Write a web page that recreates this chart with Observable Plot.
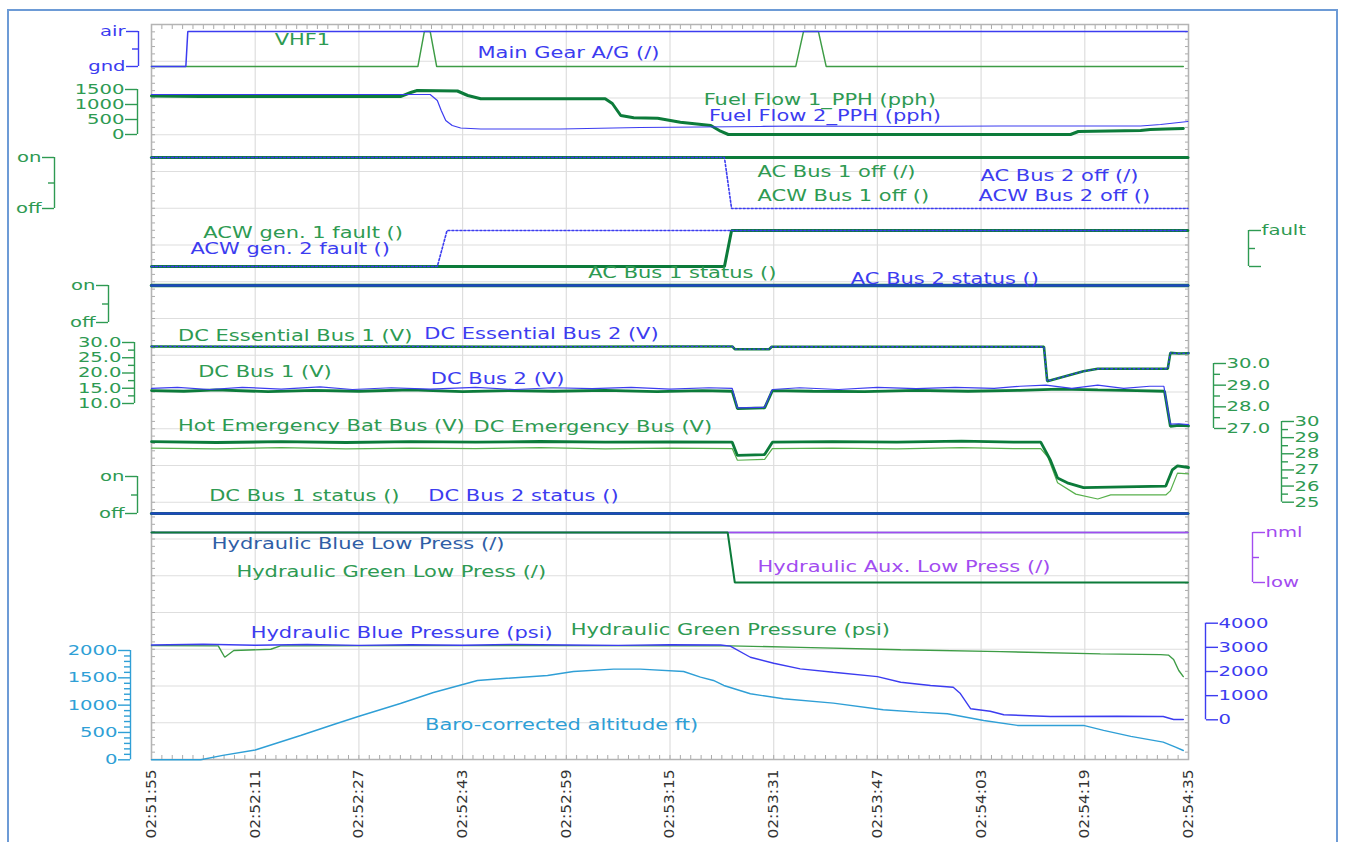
<!DOCTYPE html>
<html><head><meta charset="utf-8">
<script src="https://cdn.jsdelivr.net/npm/d3@7"></script>
<script src="https://cdn.jsdelivr.net/npm/@observablehq/plot@0.6"></script>
<style>
html,body{margin:0;padding:0;background:#fff;}
#chart{position:relative;width:1346px;height:842px;overflow:hidden;background:#fff;}
#chart svg{position:absolute;left:0;top:0;}
#border{position:absolute;left:7px;top:9px;width:1331px;height:860px;border:2px solid #6d9bd6;box-sizing:border-box;}
</style></head>
<body><div id="chart"><div id="border"></div></div>
<script>
// ---------- time axis ----------
const T0 = Date.UTC(2021, 0, 1, 2, 51, 55);          // 02:51:55
const tickSeconds = [0, 16, 32, 48, 64, 80, 96, 112, 128, 144, 160];

// ---------- Main Gear A/G and VHF1 (0 = gnd, 1 = air) ----------
const mainGearT = [0, 5.3, 5.6, 159.8];
const mainGearV = [0, 0, 1, 1];
const vhf1T = [0, 41.1, 42.1, 43.0, 44.0, 99.4, 100.6, 102.9, 104.1, 159.2];
const vhf1V = [0, 0, 1, 1, 0, 0, 1, 1, 0, 0];

// ---------- Fuel flow (pph) ----------
const ff1T = [0, 7.6, 38.4, 40.0, 41.0, 47.2, 48.8, 50.8, 70.0, 71.1, 72.4, 74.4, 78.1, 81.6, 86.3, 87.8, 89.0, 141.8, 143.0, 152.6, 154.1, 156.5, 159.2];
const ff1V = [1280, 1265, 1265, 1400, 1467, 1450, 1300, 1190, 1190, 1033, 633, 557, 540, 410, 300, 110, 0, 0, 100, 133, 170, 185, 200];
const ff2T = [0, 43.0, 44.1, 44.7, 45.4, 46.4, 47.7, 50.8, 63.1, 75.4, 84.7, 94.0, 100.1, 115.6, 131.0, 152.6, 155.7, 159.9];
const ff2V = [1333, 1333, 1133, 800, 467, 300, 217, 183, 183, 233, 250, 267, 283, 267, 283, 283, 333, 433];

// ---------- AC bus off (1 = on, 0 = off) ----------
const acBus1OffT = [0, 159.9];
const acBus1OffV = [1, 1];
const acwBus2OffT = [0, 88.4, 89.5, 159.9];
const acwBus2OffV = [1, 1, 0, 0];

// ---------- ACW generator faults (1 = fault) ----------
const acwGen1T = [0, 88.4, 89.5, 159.9];
const acwGen1V = [0, 0, 1, 1];
const acwGen2T = [0, 44.1, 45.6, 159.9];
const acwGen2V = [0, 0, 1, 1];

// ---------- AC bus status ----------
const acStat1T = [0, 159.9];
const acStat1V = [1, 1];
const acStat2T = [0, 159.9];
const acStat2V = [1, 1];

// ---------- DC Essential buses (V, left 10–30 scale) ----------
const dcEss1T = [0, 20, 40, 60, 80, 89.6, 90.0, 95.3, 95.7, 110, 130, 137.7, 138.2, 143.8, 146.0, 156.8, 157.2, 158.5, 160];
const dcEss1V = [28.7, 28.6, 28.7, 28.6, 28.7, 28.7, 27.8, 27.8, 28.6, 28.6, 28.6, 28.6, 17.3, 20.6, 21.4, 21.4, 26.6, 26.4, 26.5];
const dcEss2T = [0, 20, 40, 60, 80, 89.6, 90.0, 95.3, 95.7, 110, 130, 137.7, 138.2, 143.8, 146.0, 156.8, 157.2, 158.5, 160];
const dcEss2V = [28.7, 28.7, 28.7, 28.6, 28.7, 28.7, 27.8, 27.8, 28.6, 28.6, 28.6, 28.6, 17.3, 20.6, 21.4, 21.4, 26.6, 26.4, 26.5];

// ---------- DC buses (V, right 27–30 scale) ----------
const dcBus1T = [0, 5, 10, 18, 25, 32, 40, 48, 55, 62, 70, 78, 85, 89.6, 90.4, 94.6, 95.8, 102, 110, 118, 126, 134, 140, 146, 152, 156.3, 157.2, 158.5, 160];
const dcBus1V = [28.75, 28.72, 28.78, 28.7, 28.76, 28.72, 28.78, 28.7, 28.75, 28.72, 28.76, 28.7, 28.75, 28.72, 27.92, 27.95, 28.75, 28.72, 28.7, 28.76, 28.72, 28.76, 28.82, 28.78, 28.75, 28.72, 27.1, 27.15, 27.12];
const dcBus2T = [0, 4, 9, 14, 20, 26, 31, 37, 43, 50, 56, 62, 68, 74, 80, 86, 89.6, 90.4, 94.6, 95.8, 100, 106, 112, 118, 124, 130, 134, 138, 142, 146, 150, 154, 156.2, 157.2, 158.5, 160];
const dcBus2V = [28.85, 28.9, 28.8, 28.9, 28.82, 28.92, 28.8, 28.88, 28.82, 28.9, 28.8, 28.88, 28.84, 28.9, 28.82, 28.88, 28.85, 27.95, 27.98, 28.8, 28.88, 28.8, 28.9, 28.84, 28.9, 28.85, 28.95, 29.0, 28.85, 29.0, 28.85, 28.95, 28.95, 27.2, 27.22, 27.18];

// ---------- Emergency buses (V, right 25–30 scale) ----------
const hotEmT = [0, 10, 20, 30, 40, 50, 60, 70, 80, 89.6, 90.4, 94.6, 95.8, 105, 115, 125, 133, 137.2, 138.7, 139.8, 141.3, 143.8, 150, 156.5, 157.5, 158.3, 160];
const hotEmV = [28.75, 28.7, 28.75, 28.7, 28.75, 28.72, 28.76, 28.72, 28.74, 28.72, 27.9, 27.95, 28.72, 28.75, 28.72, 28.78, 28.72, 28.72, 27.6, 26.5, 26.2, 25.9, 25.95, 26.0, 27.0, 27.25, 27.15];
const dcEmT = [0, 10, 20, 30, 40, 50, 60, 70, 80, 89.6, 90.4, 94.6, 95.8, 105, 115, 125, 133, 137.2, 138.3, 139.8, 142.6, 146.0, 148.0, 156.5, 157.2, 158.3, 160];
const dcEmV = [28.35, 28.3, 28.38, 28.3, 28.35, 28.32, 28.38, 28.3, 28.35, 28.32, 27.6, 27.65, 28.32, 28.35, 28.3, 28.38, 28.32, 28.32, 27.8, 26.2, 25.5, 25.2, 25.45, 25.45, 25.7, 26.8, 26.75];

// ---------- DC bus status ----------
const dcStat1T = [0, 159.9];
const dcStat1V = [0, 0];
const dcStat2T = [0, 159.9];
const dcStat2V = [0, 0];

// ---------- Hydraulic low press (1 = nml, 0 = low) ----------
const hydAuxLowT = [0, 159.9];
const hydAuxLowV = [1, 1];
const hydBlueLowT = [0, 159.9];
const hydBlueLowV = [1, 1];
const hydGreenLowT = [0, 88.9, 90.0, 159.9];
const hydGreenLowV = [1, 1, 0, 0];

// ---------- Hydraulic pressures (psi) ----------
const hydBlueT = [0, 8, 16, 24, 32, 40, 48, 56, 64, 72, 80, 87.8, 89.3, 92.4, 96.0, 100.1, 105.2, 112.0, 115.6, 120.2, 123.7, 124.8, 126.4, 129.4, 131.5, 138.7, 149.0, 156.1, 157.7, 159.2];
const hydBlueV = [3100, 3130, 3090, 3120, 3080, 3110, 3090, 3120, 3100, 3080, 3110, 3100, 3050, 2590, 2340, 2110, 1970, 1790, 1556, 1419, 1349, 1088, 455, 356, 207, 137, 150, 137, 12, 12];
const hydGreenT = [0, 10.3, 11.3, 12.7, 18.4, 19.9, 40, 60, 89.3, 100.1, 115.6, 131.0, 146.4, 155.7, 156.9, 157.7, 158.5, 159.2];
const hydGreenV = [3070, 3060, 2590, 2870, 2920, 3060, 3070, 3070, 3060, 3000, 2900, 2825, 2730, 2700, 2680, 2500, 2040, 1790];

// ---------- Baro-corrected altitude (ft) ----------
const altT = [0, 7.6, 11.0, 16.0, 23.0, 28.1, 31.9, 38.4, 43.5, 50.3, 53.8, 61.1, 65.1, 71.3, 75.4, 82.1, 84.7, 86.7, 88.3, 92.4, 97.5, 105.2, 112.9, 118.2, 122.8, 128.4, 133.6, 143.8, 146.9, 151.1, 156.1, 158.0, 159.2];
const altV = [0, 0, 80, 180, 445, 646, 792, 1030, 1232, 1451, 1483, 1543, 1616, 1660, 1660, 1616, 1512, 1452, 1360, 1208, 1117, 1037, 916, 872, 842, 720, 629, 629, 538, 428, 324, 232, 170];

// ---------- styling ----------
const GREEN = "#2e9a52", DKGREEN = "#0c7b3a", LINEGREEN = "#3d9c45", LTGREEN = "#58b04c";
const BLUE = "#3c3cf0", STATBLUE = "#1f47c0", SKY = "#2f9fd6", PURPLE = "#a24cf0", STEEL = "#2f5ea6";
const W = 1346, H = 842;
const X_RANGE = [151, 1188];
const secs = s => new Date(T0 + s * 1000);
const xDomain = [secs(0), secs(160)];
const rows = (T, V) => T.map((t, i) => ({t: secs(t), v: V[i]}));
const STYLE = "background: transparent; overflow: visible; font-family: 'DejaVu Sans', Verdana, sans-serif; font-size: 14px;";

// widen the glyphs horizontally (the reference face is wide), about each text's own anchor
function stretch(svg, s) {
  svg.querySelectorAll("text").forEach(t => {
    t.setAttribute("transform", (t.getAttribute("transform") || "") + ` scale(${s},1)`);
  });
  return svg;
}

const chart = document.getElementById("chart");

// ---------- background: frame, grid, time axis ----------
const tickDates = tickSeconds.map(secs);
const minorDates = d3.range(0, 160.01, 1.6).map(secs);
const bg = Plot.plot({
  width: W, height: H,
  marginLeft: X_RANGE[0], marginRight: W - X_RANGE[1], marginTop: 24, marginBottom: H - 759,
  style: STYLE,
  x: {type: "utc", domain: xDomain, label: null},
  y: {domain: [0, 20], label: null},
  marks: [
    Plot.gridX(tickDates, {stroke: "#dedede", strokeOpacity: 1, strokeWidth: 1.2}),
    Plot.gridY(d3.range(0, 21), {stroke: "#dedede", strokeOpacity: 1, strokeWidth: 1.2}),
    Plot.axisY(d3.range(0, 20.01, 0.2), {anchor: "left", tickSize: -4, fill: "none", stroke: "#aaa"}),
    Plot.axisY(d3.range(0, 20.01, 0.2), {anchor: "right", tickSize: -4, fill: "none", stroke: "#aaa"}),
    Plot.axisX(minorDates, {anchor: "top", tickSize: -4, fill: "none", stroke: "#aaa"}),
    Plot.axisX(minorDates, {anchor: "bottom", tickSize: -4, fill: "none", stroke: "#aaa"}),
    Plot.frame({stroke: "#b4b4b4", strokeWidth: 1.5}),
    Plot.axisX(tickDates, {anchor: "bottom", tickSize: 0, tickPadding: 10, tickRotate: -90,
      tickFormat: d3.utcFormat("%H:%M:%S"), fill: "#333"})
  ]
});
chart.appendChild(stretch(bg, 1.1));

// ---------- stacked panels, each with its own y scale ----------
function panel(p) {
  const left = p.side === "left";
  const marks = [
    Plot.ruleX([left ? xDomain[0] : xDomain[1]], {
      y1: p.yDomain[0], y2: p.yDomain[1],
      dx: p.axisX - (left ? X_RANGE[0] : X_RANGE[1]), stroke: p.color, strokeWidth: 1.4}),
    Plot.axisY(p.major, {anchor: p.side, tickSize: 12, tickPadding: 1, tickFormat: p.fmt,
      stroke: p.color, fill: p.color, strokeWidth: 1.4})
  ];
  if (p.minor) marks.push(Plot.axisY(p.minor, {anchor: p.side, tickSize: 6, fill: "none", stroke: p.color, strokeWidth: 1.4}));
  for (const s of p.series) {
    marks.push(Plot.line(rows(s.T, s.V), {x: "t", y: "v", stroke: s.stroke, strokeWidth: s.w,
      strokeDasharray: s.dash || null, strokeLinejoin: "miter"}));
  }
  for (const l of p.labels) {
    marks.push(Plot.text([l], {x: d => secs(d.t), y: "v", text: "text", fill: l.color, textAnchor: "start", fontSize: 15}));
  }
  const svg = Plot.plot({
    width: W, height: H,
    marginLeft: left ? p.axisX : 0, marginRight: left ? 0 : W - p.axisX, marginTop: 0, marginBottom: 0,
    style: STYLE,
    x: {type: "utc", domain: xDomain, range: X_RANGE, axis: null, label: null},
    y: {domain: p.yDomain, range: p.yRange, label: null},
    marks
  });
  chart.appendChild(stretch(svg, 1.4));
}

const onOff = d => d === 1 ? "on" : d === 0 ? "off" : "";
const f1 = d3.format(".1f");

panel({side: "left", axisX: 138, yDomain: [0, 1], yRange: [66, 31], major: [0, 1], minor: [0.5],
  fmt: d => d === 1 ? "air" : "gnd", color: BLUE,
  series: [{T: vhf1T, V: vhf1V, stroke: LINEGREEN, w: 1.4}, {T: mainGearT, V: mainGearV, stroke: BLUE, w: 1.5}],
  labels: [{text: "VHF1", t: 19.0, v: 0.74, color: GREEN}, {text: "Main Gear A/G (/)", t: 50.3, v: 0.37, color: BLUE}]});

panel({side: "left", axisX: 137, yDomain: [0, 1500], yRange: [134, 89], major: [0, 500, 1000, 1500],
  fmt: d => String(d), color: GREEN,
  series: [{T: ff1T, V: ff1V, stroke: DKGREEN, w: 3}, {T: ff2T, V: ff2V, stroke: BLUE, w: 1.2}],
  labels: [{text: "Fuel Flow 1_PPH (pph)", t: 85.2, v: 1133, color: GREEN}, {text: "Fuel Flow 2_PPH (pph)", t: 86.0, v: 600, color: BLUE}]});

panel({side: "left", axisX: 54, yDomain: [0, 1], yRange: [208, 157], major: [0, 1], minor: [0.5],
  fmt: onOff, color: GREEN,
  series: [{T: acBus1OffT, V: acBus1OffV, stroke: DKGREEN, w: 3.2}, {T: acwBus2OffT, V: acwBus2OffV, stroke: BLUE, w: 1.6, dash: "2,2"}],
  labels: [{text: "AC Bus 1 off (/)", t: 93.5, v: 0.706, color: GREEN}, {text: "AC Bus 2 off (/)", t: 127.9, v: 0.627, color: BLUE},
           {text: "ACW Bus 1 off ()", t: 93.5, v: 0.235, color: GREEN}, {text: "ACW Bus 2 off ()", t: 127.6, v: 0.235, color: BLUE}]});

panel({side: "right", axisX: 1248, yDomain: [0, 1], yRange: [266, 230], major: [0, 1], minor: [0.5],
  fmt: d => d === 1 ? "fault" : "", color: GREEN,
  series: [{T: acwGen1T, V: acwGen1V, stroke: DKGREEN, w: 3}, {T: acwGen2T, V: acwGen2V, stroke: BLUE, w: 1.6, dash: "2,2"}],
  labels: [{text: "ACW gen. 1 fault ()", t: 8.0, v: 0.917, color: GREEN}, {text: "ACW gen. 2 fault ()", t: 6.0, v: 0.472, color: BLUE}]});

panel({side: "left", axisX: 108, yDomain: [0, 1], yRange: [322, 285], major: [0, 1], minor: [0.5],
  fmt: onOff, color: GREEN,
  series: [{T: acStat1T, V: acStat1V, stroke: DKGREEN, w: 3.4}, {T: acStat2T, V: acStat2V, stroke: STATBLUE, w: 2.6}],
  labels: [{text: "AC Bus 1 status ()", t: 67.4, v: 1.324, color: GREEN}, {text: "AC Bus 2 status ()", t: 107.9, v: 1.162, color: BLUE}]});

panel({side: "left", axisX: 134, yDomain: [10, 30], yRange: [403, 342], major: [10, 15, 20, 25, 30], minor: [12.5, 17.5, 22.5, 27.5],
  fmt: f1, color: GREEN,
  series: [{T: dcEss1T, V: dcEss1V, stroke: DKGREEN, w: 2.6}, {T: dcEss2T, V: dcEss2V, stroke: BLUE, w: 1.3, dash: "1.5,3"}],
  labels: [{text: "DC Essential Bus 1 (V)", t: 4.1, v: 31.97, color: GREEN}, {text: "DC Essential Bus 2 (V)", t: 42.1, v: 32.6, color: BLUE}]});

panel({side: "right", axisX: 1213, yDomain: [27, 30], yRange: [428, 363], major: [27, 28, 29, 30], minor: [27.5, 28.5, 29.5],
  fmt: f1, color: GREEN,
  series: [{T: dcBus1T, V: dcBus1V, stroke: DKGREEN, w: 2.8}, {T: dcBus2T, V: dcBus2V, stroke: BLUE, w: 1.2}],
  labels: [{text: "DC Bus 1 (V)", t: 7.2, v: 29.585, color: GREEN}, {text: "DC Bus 2 (V)", t: 43.1, v: 29.26, color: BLUE}]});

panel({side: "right", axisX: 1281, yDomain: [25, 30], yRange: [501.7, 421], major: [25, 26, 27, 28, 29, 30], minor: [25.5, 26.5, 27.5, 28.5, 29.5],
  fmt: d => String(d), color: GREEN,
  series: [{T: dcEmT, V: dcEmV, stroke: LTGREEN, w: 1.2}, {T: hotEmT, V: hotEmV, stroke: DKGREEN, w: 2.8}],
  labels: [{text: "Hot Emergency Bat Bus (V)", t: 4.1, v: 29.69, color: GREEN}, {text: "DC Emergency Bus (V)", t: 49.7, v: 29.63, color: GREEN}]});

panel({side: "left", axisX: 137, yDomain: [0, 1], yRange: [513, 476], major: [0, 1], minor: [0.5],
  fmt: onOff, color: GREEN,
  series: [{T: dcStat1T, V: dcStat1V, stroke: DKGREEN, w: 3.2}, {T: dcStat2T, V: dcStat2V, stroke: STATBLUE, w: 2.6}],
  labels: [{text: "DC Bus 1 status ()", t: 8.9, v: 0.46, color: GREEN}, {text: "DC Bus 2 status ()", t: 42.7, v: 0.46, color: BLUE}]});

panel({side: "right", axisX: 1252, yDomain: [0, 1], yRange: [582, 532], major: [0, 1], minor: [0.5],
  fmt: d => d === 1 ? "nml" : "low", color: PURPLE,
  series: [{T: hydBlueLowT, V: hydBlueLowV, stroke: STEEL, w: 1.5}, {T: hydAuxLowT, V: hydAuxLowV, stroke: PURPLE, w: 1.6},
           {T: hydGreenLowT, V: hydGreenLowV, stroke: DKGREEN, w: 2}],
  labels: [{text: "Hydraulic Blue Low Press (/)", t: 9.3, v: 0.76, color: STEEL},
           {text: "Hydraulic Green Low Press (/)", t: 13.1, v: 0.2, color: GREEN},
           {text: "Hydraulic Aux. Low Press (/)", t: 93.5, v: 0.3, color: PURPLE}]});

panel({side: "right", axisX: 1205, yDomain: [0, 4000], yRange: [719.3, 622.7], major: [0, 1000, 2000, 3000, 4000],
  fmt: d => String(d), color: BLUE,
  series: [{T: hydGreenT, V: hydGreenV, stroke: LINEGREEN, w: 1.4}, {T: hydBlueT, V: hydBlueV, stroke: BLUE, w: 1.4}],
  labels: [{text: "Hydraulic Blue Pressure (psi)", t: 15.3, v: 3570, color: BLUE},
           {text: "Hydraulic Green Pressure (psi)", t: 64.7, v: 3694, color: GREEN}]});

panel({side: "left", axisX: 130, yDomain: [0, 2000], yRange: [759.3, 650], major: [0, 500, 1000, 1500, 2000],
  minor: d3.range(0, 2001, 100).filter(d => d % 500 !== 0),
  fmt: d => String(d), color: SKY,
  series: [{T: altT, V: altV, stroke: SKY, w: 1.4}],
  labels: [{text: "Baro-corrected altitude ft)", t: 42.2, v: 628, color: SKY}]});
</script>
</body></html>
